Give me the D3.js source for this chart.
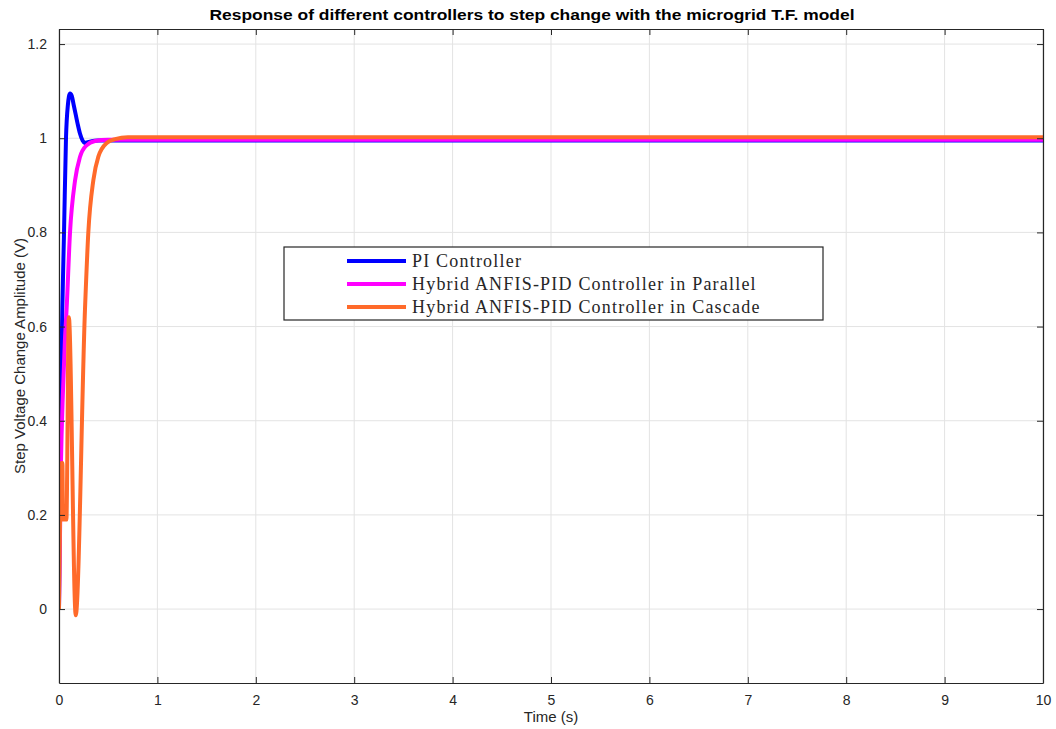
<!DOCTYPE html>
<html>
<head>
<meta charset="utf-8">
<script src="https://cdn.jsdelivr.net/npm/d3@7"></script>
<style>
  body { margin: 0; background: #fff; }
  text { font-family: "Liberation Sans", Arial, sans-serif; }
</style>
</head>
<body>
<svg id="vis" width="1056" height="729"></svg>
<script>
// chart data
var titleText = "Response of different controllers to step change with the microgrid T.F. model";
var xLabel = "Time (s)";
var yLabel = "Step Voltage Change Amplitude (V)";
var xTicks = [0, 1, 2, 3, 4, 5, 6, 7, 8, 9, 10];
var yTicks = [0, 0.2, 0.4, 0.6, 0.8, 1, 1.2];
var seriesNames = ["PI Controller", "Hybrid ANFIS-PID Controller in Parallel", "Hybrid ANFIS-PID Controller in Cascade"];
var seriesColors = ["#0000ff", "#ff00ff", "#ff6a2a"];

// [time, amplitude]
var piData = [[0, 0], [0.01, 0.25], [0.02, 0.45], [0.034, 0.64], [0.051, 0.8], [0.071, 1.0],
  [0.09, 1.07], [0.112, 1.095], [0.13, 1.09], [0.15, 1.07], [0.17, 1.05], [0.19, 1.03],
  [0.213, 1.01], [0.24, 0.995], [0.26, 0.99], [0.3, 0.992], [0.4, 0.995], [1, 0.995],
  [5, 0.995], [10, 0.995]];
var parallelData = [[0, 0], [0.02, 0.31], [0.04, 0.46], [0.06, 0.57], [0.078, 0.64],
  [0.112, 0.8], [0.163, 0.91], [0.213, 0.96], [0.28, 0.985], [0.366, 0.994], [0.5, 0.997],
  [1, 0.997], [5, 0.997], [10, 0.997]];
var cascadeData = [[0, 0], [0.025, 0.31], [0.035, 0.31], [0.04, 0.19], [0.075, 0.19],
  [0.1, 0.62], [0.17, -0.013], [0.264, 0.636], [0.298, 0.8], [0.349, 0.911], [0.4, 0.961],
  [0.485, 0.99], [0.57, 0.998], [0.7, 1.002], [1, 1.002], [5, 1.002], [10, 1.002]];
var allSeries = [piData, parallelData, cascadeData];

var margin = {left: 59, right: 13, top: 29, bottom: 46};
var width = 1056, height = 729;

var svg = d3.select("#vis");

var x = d3.scaleLinear().domain([0, 10]).range([margin.left, width - margin.right]);
var y = d3.scaleLinear().domain([-0.157, 1.232]).range([height - margin.bottom, margin.top]);

// grid
svg.append("g").selectAll("line.vgrid")
  .data(xTicks).enter().append("line")
  .attr("x1", d => x(d)).attr("x2", d => x(d))
  .attr("y1", y.range()[1]).attr("y2", y.range()[0])
  .attr("stroke", "#e3e3e3").attr("stroke-width", 1);
svg.append("g").selectAll("line.hgrid")
  .data(yTicks).enter().append("line")
  .attr("x1", x.range()[0]).attr("x2", x.range()[1])
  .attr("y1", d => y(d)).attr("y2", d => y(d))
  .attr("stroke", "#e3e3e3").attr("stroke-width", 1);

// lines
svg.append("clipPath").attr("id", "clip").append("rect")
  .attr("x", x.range()[0]).attr("y", y.range()[1])
  .attr("width", x.range()[1] - x.range()[0])
  .attr("height", y.range()[0] - y.range()[1]);

var line = d3.line().x(d => x(d[0])).y(d => y(d[1])).curve(d3.curveMonotoneX);

svg.append("g").attr("clip-path", "url(#clip)")
  .selectAll("path").data(allSeries).enter().append("path")
  .attr("d", line)
  .attr("fill", "none")
  .attr("stroke", (d, i) => seriesColors[i])
  .attr("stroke-width", 4)
  .attr("stroke-linejoin", "round");

// axes (MATLAB style, ticks inside, box)
var axisColor = "#262626";
var bottomAxis = d3.axisBottom(x).tickValues(xTicks).tickSize(-6).tickSizeOuter(0).tickPadding(12).tickFormat(d3.format("d"));
var topAxis = d3.axisTop(x).tickValues(xTicks).tickSize(-6).tickSizeOuter(0).tickFormat("");
var leftAxis = d3.axisLeft(y).tickValues(yTicks).tickSize(-6).tickSizeOuter(0).tickPadding(12).tickFormat(d => d3.format("")(d));
var rightAxis = d3.axisRight(y).tickValues(yTicks).tickSize(-6).tickSizeOuter(0).tickFormat("");

function styleAxis(g) {
  g.select(".domain").attr("stroke", axisColor).attr("stroke-width", 1.2);
  g.selectAll(".tick line").attr("stroke", axisColor);
  g.selectAll(".tick text").attr("fill", axisColor).attr("font-size", 14)
    .attr("font-family", "Liberation Sans, Arial, sans-serif");
}

svg.append("g").attr("transform", "translate(0," + y.range()[0] + ")").call(bottomAxis).call(styleAxis);
svg.append("g").attr("transform", "translate(0," + y.range()[1] + ")").call(topAxis).call(styleAxis);
svg.append("g").attr("transform", "translate(" + x.range()[0] + ",0)").call(leftAxis).call(styleAxis);
svg.append("g").attr("transform", "translate(" + x.range()[1] + ",0)").call(rightAxis).call(styleAxis);

// title and labels
svg.append("text")
  .attr("x", 532).attr("y", 20)
  .attr("text-anchor", "middle").attr("font-size", 15).attr("font-weight", "bold")
  .attr("fill", "#000")
  .attr("textLength", 645).attr("lengthAdjust", "spacingAndGlyphs")
  .text(titleText);

svg.append("text")
  .attr("x", (x.range()[0] + x.range()[1]) / 2).attr("y", 722)
  .attr("text-anchor", "middle").attr("font-size", 15).attr("fill", axisColor)
  .text(xLabel);

svg.append("text")
  .attr("transform", "translate(25," + (y.range()[0] + y.range()[1]) / 2 + ") rotate(-90)")
  .attr("text-anchor", "middle").attr("font-size", 15).attr("fill", axisColor)
  .text(yLabel);

// legend
var legend = svg.append("g").attr("transform", "translate(284,247)");
legend.append("rect")
  .attr("width", 539).attr("height", 73)
  .attr("fill", "#fff").attr("stroke", "#262626").attr("stroke-width", 1.2);
var items = legend.selectAll("g.item").data(seriesNames).enter().append("g")
  .attr("class", "item")
  .attr("transform", (d, i) => "translate(0," + (14 + i * 23) + ")");
items.append("line")
  .attr("x1", 63).attr("x2", 122).attr("y1", 0).attr("y2", 0)
  .attr("stroke", (d, i) => seriesColors[i]).attr("stroke-width", 4);
items.append("text")
  .attr("x", 128).attr("y", 6)
  .style("font-family", "'Liberation Serif', 'Times New Roman', serif")
  .style("letter-spacing", "1.2px")
  .attr("font-size", 18).attr("fill", "#262626")
  .text(d => d);
</script>
</body>
</html>
